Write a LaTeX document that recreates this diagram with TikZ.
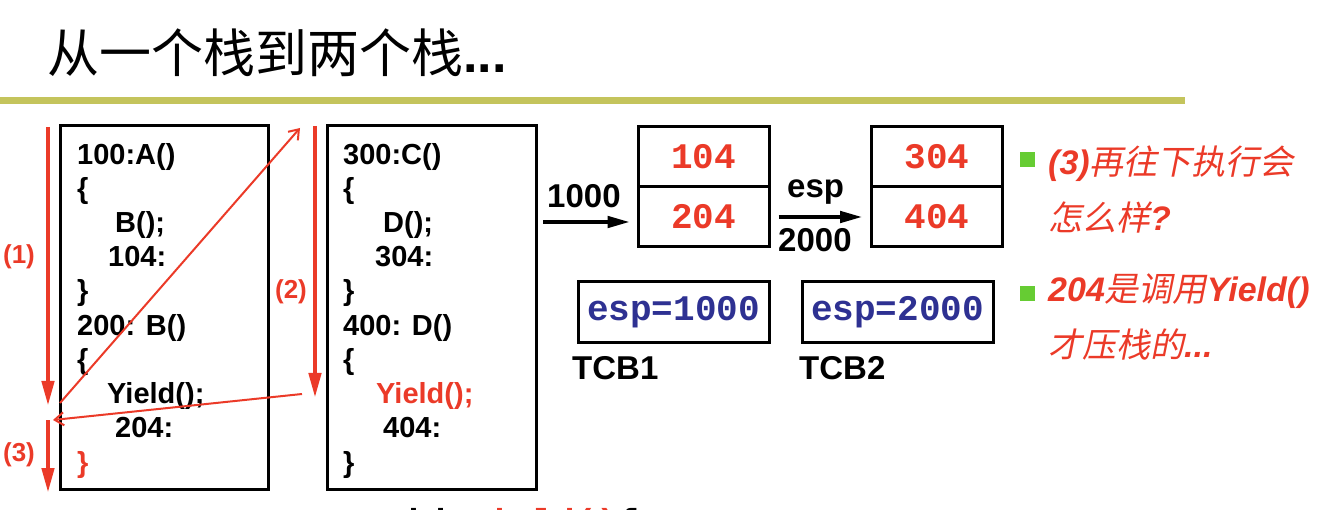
\documentclass[tikz,border=0pt]{standalone}
\usepackage{fontspec}
\setmainfont{Liberation Sans}
\newfontfamily\monofnt{Liberation Mono}
\newfontfamily\cjkfnt{Noto Sans CJK SC}
\newfontfamily\cjkslfnt[FakeSlant=0.2]{Noto Sans CJK SC}
\newcommand\zhsl[1]{{\cjkslfnt\mdseries\upshape #1}}
\usetikzlibrary{arrows.meta}
\definecolor{myred}{RGB}{235,58,40}
\definecolor{myblue}{RGB}{46,49,146}
\definecolor{olivebar}{RGB}{196,196,92}
\definecolor{bulgreen}{RGB}{102,204,51}
\tikzset{
  code/.style={anchor=base west, inner sep=0pt, font=\fontsize{29}{34}\selectfont\bfseries},
  codebox/.style={draw, line width=3pt, inner sep=0pt},
  cell/.style={draw, line width=3pt, inner sep=0pt, minimum width=131pt, minimum height=60pt,
    text=myred, font=\fontsize{36}{40}\selectfont\monofnt\bfseries},
  tcbbox/.style={draw, line width=3pt, inner sep=0pt, minimum width=191pt, minimum height=61pt,
    text=myblue, font=\fontsize{36}{40}\selectfont\monofnt\bfseries},
  biglbl/.style={anchor=base west, inner sep=0pt, font=\fontsize{33}{38}\selectfont\bfseries},
  numlbl/.style={inner sep=0pt, text=myred, font=\fontsize{26}{30}\selectfont\bfseries},
  redthick/.style={draw=myred, line width=4.5pt, -{Triangle[length=25pt,width=12pt]}},
  redthin/.style={draw=myred, line width=2pt, -{Straight Barb[length=9pt,width=13pt]}},
  blkarrow/.style={draw=black, line width=4.5pt, -{Triangle[length=23pt,width=11pt]}},
  bullet/.style={fill=bulgreen, minimum size=15pt, inner sep=0pt},
  note/.style={anchor=base west, inner sep=0pt, text=myred, font=\fontsize{34}{40}\selectfont\bfseries\itshape}
}
\begin{document}
\begin{tikzpicture}[x=1pt,y=-1pt]
\useasboundingbox (0,0) rectangle (1344,510);
\clip (0,0) rectangle (1344,510);
% title
\node[anchor=base west, inner sep=0pt] (title) at (47,73)
  {\fontsize{52}{60}\selectfont\cjkfnt 从一个栈到两个栈\rmfamily\bfseries...};
\fill[olivebar] (0,97) rectangle (1185,104);

% code boxes
\node[codebox, minimum width=208pt, minimum height=363pt] (box1) at (164,307.5) {};
\node[codebox, minimum width=209pt, minimum height=363pt] (box2) at (431.5,307.5) {};

\node[code] (a1) at (77,165) {100:A()};
\node[code] (a2) at (77,199) {\{};
\node[code] (a3) at (115,233) {B();};
\node[code] (a4) at (108,267) {104:};
\node[code] (a5) at (77,301) {\}};
\node[code] (a6) at (77,336) {200: B()};
\node[code] (a7) at (77,370) {\{};
\node[code] (a8) at (107,404) {Yield();};
\node[code] (a9) at (115,438) {204:};
\node[code, text=myred] (a10) at (77,472) {\}};

\node[code] (c1) at (343,165) {300:C()};
\node[code] (c2) at (343,199) {\{};
\node[code] (c3) at (383,233) {D();};
\node[code] (c4) at (375,267) {304:};
\node[code] (c5) at (343,301) {\}};
\node[code] (c6) at (343,336) {400: D()};
\node[code] (c7) at (343,370) {\{};
\node[code, text=myred] (c8) at (376,404) {Yield();};
\node[code] (c9) at (383,438) {404:};
\node[code] (c10) at (343,472) {\}};

% cut-off line at the bottom
\node[anchor=base west, inner sep=0pt, font=\fontsize{36}{40}\selectfont\monofnt\bfseries] (cut) at (359,534)
  {void \textcolor{myred}{Yield()}\{};

% red flow arrows
\coordinate (r1s) at (48,127);  \coordinate (r1e) at (48,406);
\coordinate (r3s) at (48,420);  \coordinate (r3e) at (48,493);
\coordinate (r2s) at (315,126); \coordinate (r2e) at (315,398);
\coordinate (d1s) at (60,403);  \coordinate (d1e) at (300,128);
\coordinate (d2s) at (302,394); \coordinate (d2e) at (53,420);
\draw[redthick] (r1s) -- (r1e);
\draw[redthick] (r3s) -- (r3e);
\draw[redthick] (r2s) -- (r2e);
\draw[redthin] (d1s) -- (d1e);
\draw[redthin] (d2s) -- (d2e);
\node[numlbl] (l1) at (19,257) {(1)};
\node[numlbl] (l2) at (291,292) {(2)};
\node[numlbl] (l3) at (19,455) {(3)};

% stacks
\node[cell] (s1a) at (703.5,157) {104};
\node[cell] (s1b) at (703.5,217) {204};
\node[cell] (s2a) at (937,157) {304};
\node[cell] (s2b) at (937,217) {404};
\coordinate (p1) at (543,222);
\draw[blkarrow] (p1) -- ([xshift=-6pt,yshift=-5pt]s1b.west);
\draw[blkarrow] ([xshift=8pt]s1b.east) -- ([xshift=-7pt]s2b.west);
\node[biglbl] (n1000) at (547,208) {1000};
\node[biglbl] (nesp) at (787,198) {esp};
\node[biglbl] (n2000) at (778,252) {2000};

% TCBs
\node[tcbbox] (t1) at (673.5,312.5) {esp=1000};
\node[tcbbox] (t2) at (897.5,312.5) {esp=2000};
\node[biglbl] (tl1) at (572,380) {TCB1};
\node[biglbl] (tl2) at (799,380) {TCB2};

% notes
\node[bullet] (b1) at (1027.5,159.5) {};
\node[bullet] (b2) at (1027.5,293.5) {};
\node[note] (n1) at (1048,175) {(3)\zhsl{再往下执行会}};
\node[note] (n2) at (1048,231) {\zhsl{怎么样}?};
\node[note] (n3) at (1048,302) {204\zhsl{是调用}Yield()};
\node[note] (n4) at (1048,358) {\zhsl{才压栈的}...};
\end{tikzpicture}
\end{document}
